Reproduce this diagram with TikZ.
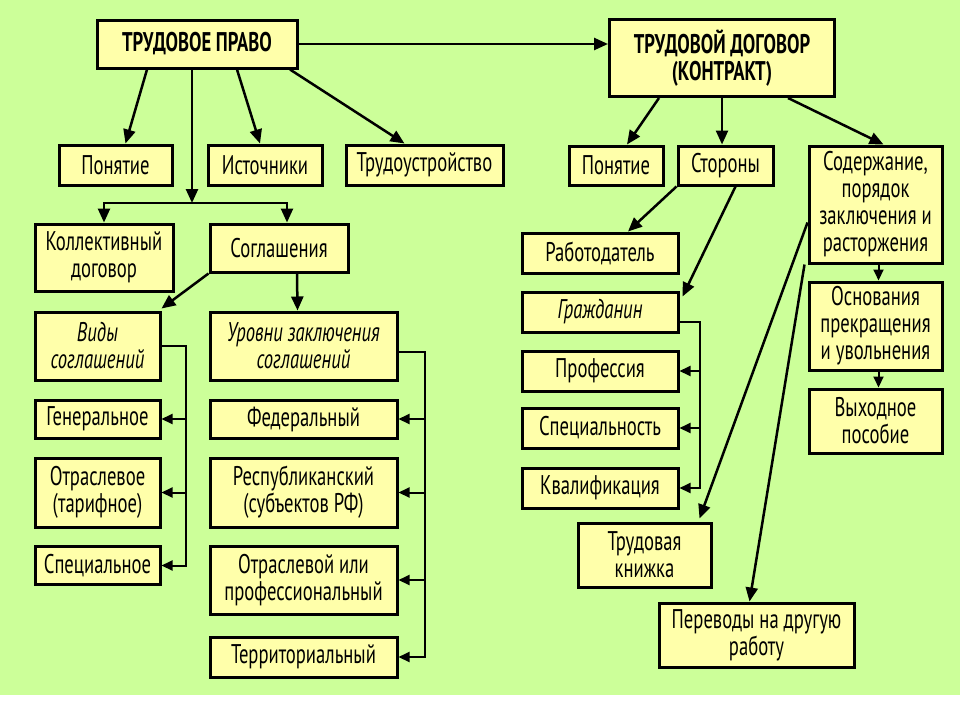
\documentclass[tikz,border=0pt]{standalone}
\usepackage{fontspec}
\setmainfont{PT Sans}[FakeStretch=0.69]
\usetikzlibrary{arrows.meta, calc}
\definecolor{bggreen}{RGB}{204,255,153}
\definecolor{boxyellow}{RGB}{255,255,170}
\tikzset{
  box/.style={draw, line width=3pt, fill=boxyellow, inner sep=0pt, align=center,
    font=\fontsize{27}{27}\selectfont},
  arr/.style={->, line width=2.5pt, >={Triangle[length=14pt,width=12pt]}},
  brk/.style={->, line width=2pt, >={Triangle[length=11pt,width=10pt]}}
}
\begin{document}
\begin{tikzpicture}[x=1pt, y=-1pt]
    \fill [white] (0,0) rectangle (960,720);
    \fill [bggreen] (0,0) rectangle (960,695);
    \useasboundingbox (0,0) rectangle (960,720);
    \node (tp) at (197,44) [box, minimum width=200, minimum height=48] {\bfseries ТРУДОВОЕ ПРАВО};
    \node (td) at (722,58) [box, minimum width=225, minimum height=77] {\bfseries ТРУДОВОЙ ДОГОВОР\\\bfseries (КОНТРАКТ)};
    \node (ponL) at (115.5,165) [box, minimum width=113, minimum height=40] {Понятие};
    \node (ist) at (265,165) [box, minimum width=114, minimum height=40] {Источники};
    \node (trud) at (424.5,165) [box, minimum width=157, minimum height=40] {Трудоустройство};
    \node (koll) at (104,257.5) [box, minimum width=138, minimum height=67] {Коллективный\\договор};
    \node (sogl) at (279,248) [box, minimum width=138, minimum height=48] {Соглашения};
    \node (vidy) at (97.5,346) [box, minimum width=125, minimum height=68, font=\fontsize{27}{27}\selectfont\itshape] {Виды\\соглашений};
    \node (urov) at (303.5,346) [box, minimum width=187, minimum height=68, font=\fontsize{27}{27}\selectfont\itshape] {Уровни заключения\\соглашений};
    \node (gen) at (97.5,419) [box, minimum width=125, minimum height=38] {Генеральное};
    \node (otr) at (97.5,492.5) [box, minimum width=125, minimum height=69] {Отраслевое\\(тарифное)};
    \node (spec) at (97.5,565.5) [box, minimum width=125, minimum height=38] {Специальное};
    \node (fed) at (303.5,419) [box, minimum width=187, minimum height=38] {Федеральный};
    \node (resp) at (303.5,492.5) [box, minimum width=187, minimum height=69] {Республиканский\\(субъектов РФ)};
    \node (otrp) at (303.5,580) [box, minimum width=187, minimum height=68] {Отраслевой или\\профессиональный};
    \node (terr) at (303.5,657) [box, minimum width=187, minimum height=40] {Территориальный};
    \node (ponR) at (616,165.5) [box, minimum width=94, minimum height=39] {Понятие};
    \node (stor) at (725.5,165.5) [box, minimum width=95, minimum height=39] {Стороны};
    \node (sod) at (875.5,204.5) [box, minimum width=133, minimum height=117] {Содержание,\\порядок\\заключения и\\расторжения};
    \node (rab) at (600,253) [box, minimum width=156, minimum height=40] {Работодатель};
    \node (grazh) at (600,312) [box, minimum width=156, minimum height=40, font=\fontsize{27}{27}\selectfont\itshape] {Гражданин};
    \node (prof) at (600,371) [box, minimum width=156, minimum height=40] {Профессия};
    \node (spc) at (600,428) [box, minimum width=156, minimum height=40] {Специальность};
    \node (kval) at (600,488) [box, minimum width=156, minimum height=40] {Квалификация};
    \node (knizh) at (644.5,555) [box, minimum width=133, minimum height=64] {Трудовая\\книжка};
    \node (perev) at (756.5,635) [box, minimum width=195, minimum height=64] {Переводы на другую\\работу};
    \node (osn) at (875.5,326) [box, minimum width=133, minimum height=88] {Основания\\прекращения\\и увольнения};
    \node (vyh) at (875.5,421) [box, minimum width=133, minimum height=64] {Выходное\\пособие};
    \draw [arr] (tp.east) -- (tp.east -| td.west);
    \draw [arr] ($(tp.south)+(-50,0)$) -- ($(ponL.north)+(10,0)$);
    \draw [arr] ($(tp.south)+(40,0)$) -- ($(ist.north)+(-5,0)$);
    \draw [arr] ($(tp.south)+(93,0)$) -- ($(trud.north)+(-20,0)$);
    \coordinate (split) at (192,203);
    \draw [arr] (tp.south -| split) -- (split);
    \draw [arr] (split) -| (koll.north);
    \draw [arr] (split) -| ($(sogl.north)+(8,0)$);
    \draw [arr] (sogl.south west) -- ($(vidy.north east)+(0,-2)$);
    \draw [arr] ($(sogl.south)+(18,0)$) -- ($(urov.north)+(-6,0)$);
    \draw [brk] (vidy.east) -- ++(24,0) coordinate (vb) |- (spec.east);
    \draw [brk] (gen.east -| vb) -- (gen.east);
    \draw [brk] (otr.east -| vb) -- (otr.east);
    \draw [brk] ($(urov.east)+(0,6)$) -- ++(26,0) coordinate (ub) |- (terr.east);
    \draw [brk] (fed.east -| ub) -- (fed.east);
    \draw [brk] (resp.east -| ub) -- (resp.east);
    \draw [brk] (otrp.east -| ub) -- (otrp.east);
    \draw [arr] ($(td.south)+(-63,0)$) -- ($(ponR.north)+(11,0)$);
    \draw [arr] (td.south) -- (td.south |- stor.north);
    \draw [arr] ($(td.south)+(66,0)$) -- ($(sod.north)+(8,0)$);
    \draw [arr] (stor.south west) -- ($(rab.north)+(28,0)$);
    \draw [arr] ($(stor.south)+(10,0)$) -- ($(grazh.north east)+(3,6)$);
    \draw [brk] ($(grazh.east)+(0,10)$) -- ++(20,0) coordinate (gb) |- (kval.east);
    \draw [brk] (prof.east -| gb) -- (prof.east);
    \draw [brk] (spc.east -| gb) -- (spc.east);
    \draw [arr] ($(sod.west)+(0,18)$) -- ($(knizh.north)+(55,-3)$);
    \draw [arr] ($(sod.south west)+(-3,0)$) -- ($(perev.north)+(-7,0)$);
    \draw [brk] ($(sod.south)+(3,0)$) -- ($(osn.north)+(3,0)$);
    \draw [brk] ($(osn.south)+(3,0)$) -- ($(vyh.north)+(3,0)$);
\end{tikzpicture}
\end{document}
